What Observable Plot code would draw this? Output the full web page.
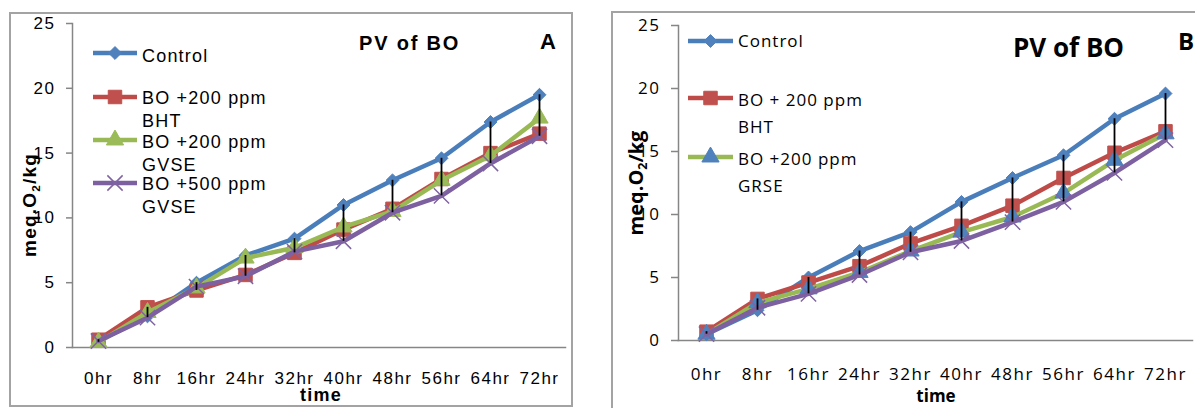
<!DOCTYPE html>
<html>
<head>
<meta charset="utf-8">
<script src="https://cdn.jsdelivr.net/npm/d3@7"></script>
<script src="https://cdn.jsdelivr.net/npm/@observablehq/plot@0.6"></script>
<style>
  body { margin: 0; background: #fff; }
  #root { position: relative; width: 1195px; height: 408px; overflow: hidden; background: #fff; }
  .frame { position: absolute; box-sizing: border-box; border: 2px solid #a3a3a3; }
  .plot { position: absolute; }
  #overlay { position: absolute; left: 0; top: 0; pointer-events: none; }
</style>
</head>
<body>
<div id="root"></div>
<script>
// ---------- data ----------
const times = ["0hr", "8hr", "16hr", "24hr", "32hr", "40hr", "48hr", "56hr", "64hr", "72hr"];
const yTicks = [0, 5, 10, 15, 20, 25];

// Panel A
const legendA = [["Control"], ["BO +200 ppm", "BHT"], ["BO +200 ppm", "GVSE"], ["BO +500 ppm", "GVSE"]];
const controlA  = [0.5, 2.4, 5.0, 7.1, 8.4, 11.0, 12.9, 14.6, 17.4, 19.5];
const bhtA      = [0.6, 3.1, 4.4, 5.6, 7.3, 9.1, 10.7, 13.0, 15.0, 16.5];
const gvse200A  = [0.4, 2.7, 4.6, 6.9, 7.7, 9.3, 10.5, 12.9, 14.8, 17.7];
const gvse500A  = [0.5, 2.3, 4.7, 5.5, 7.4, 8.2, 10.4, 11.7, 14.2, 16.3];

// Panel B
const legendB = [["Control"], ["BO + 200 ppm", "BHT"], ["BO +200 ppm", "GRSE"]];
const controlB  = [0.5, 2.4, 5.0, 7.1, 8.6, 11.0, 12.9, 14.7, 17.6, 19.6];
const bhtB      = [0.7, 3.3, 4.6, 5.9, 7.7, 9.1, 10.7, 12.9, 14.9, 16.6];
const grseB     = [0.5, 3.0, 4.1, 5.4, 7.1, 8.6, 9.8, 11.7, 14.3, 16.4];
const fourthB   = [0.5, 2.6, 3.7, 5.2, 7.0, 7.9, 9.4, 11.0, 13.3, 15.9];

// ---------- styles ----------
const BLUE = "#4a7ebb", BLUE_M = "#4f81bd";
const RED = "#be4b48", RED_M = "#c0504d";
const GREEN = "#98b954", GREEN_M = "#9bbb59";
const PURPLE = "#7d60a0", PURPLE_M = "#8064a2";

const styleControl = {line: BLUE, symbol: "diamond2", r: 5.8, fill: BLUE_M, stroke: BLUE_M, sw: 1};
const styleBHT     = {line: RED, symbol: "square", r: 7.6, fill: RED_M, stroke: RED_M, sw: 1};
const styleGreenA  = {line: GREEN, symbol: "triangle", r: 6.4, fill: GREEN_M, stroke: GREEN_M, sw: 1};
const styleGreenB  = {line: GREEN, symbol: "triangle", r: 6.4, fill: BLUE_M, stroke: BLUE_M, sw: 1};
const stylePurple  = {line: PURPLE, symbol: "times", r: 7, fill: "none", stroke: PURPLE_M, sw: 1.5};

const seriesA = [
  {values: controlA, label: legendA[0], ...styleControl},
  {values: bhtA, label: legendA[1], ...styleBHT},
  {values: gvse200A, label: legendA[2], ...styleGreenA},
  {values: gvse500A, label: legendA[3], ...stylePurple}
];
const seriesB = [
  {values: controlB, label: legendB[0], ...styleControl},
  {values: bhtB, label: legendB[1], ...styleBHT},
  {values: grseB, label: legendB[2], ...styleGreenB},
  {values: fourthB, label: null, ...stylePurple}
];

const root = document.getElementById("root");

function addFrame(l, t, w, h) {
  const d = document.createElement("div");
  d.className = "frame";
  Object.assign(d.style, {left: l + "px", top: t + "px", width: w + "px", height: h + "px"});
  root.appendChild(d);
}

function makePanel(cfg) {
  const rowsOf = s => times.map((t, i) => ({time: t, value: s.values[i]}));
  const ranges = times.map((t, i) => ({
    time: t,
    lo: d3.min(cfg.series, s => s.values[i]),
    hi: d3.max(cfg.series, s => s.values[i])
  }));
  const marks = [
    Plot.frame({anchor: "left", stroke: "#868686", strokeWidth: 1.5}),
    Plot.frame({anchor: "bottom", stroke: "#868686", strokeWidth: 1.5}),
    Plot.axisY({ticks: yTicks, tickSize: cfg.yTickSize, tickPadding: cfg.yTickPadding,
      stroke: "#868686", strokeWidth: 1.5, color: "black", label: null}),
    Plot.axisX({tickSize: 0, tickPadding: cfg.xTickPadding, color: "black", label: null})
  ];
  for (const s of cfg.series) {
    const rows = rowsOf(s);
    marks.push(Plot.line(rows, {x: "time", y: "value", stroke: s.line, strokeWidth: 4.5,
      strokeLinejoin: "round", strokeLinecap: "round"}));
    marks.push(Plot.dot(rows, {x: "time", y: "value", symbol: s.symbol, r: s.r,
      fill: s.fill, stroke: s.stroke, strokeWidth: s.sw}));
  }
  marks.push(Plot.ruleX(ranges, {x: "time", y1: "lo", y2: "hi", stroke: "black", strokeWidth: 1.8}));

  const svg = Plot.plot({
    width: cfg.width, height: cfg.height,
    marginLeft: cfg.ml, marginRight: cfg.mr, marginTop: cfg.mt, marginBottom: cfg.mb,
    x: {type: "point", domain: times, padding: 0.5},
    y: {domain: [0, 25]},
    style: {fontFamily: cfg.font, fontSize: cfg.fontSize + "px", letterSpacing: cfg.letterSpacing,
      background: "transparent", overflow: "visible", color: "black"},
    marks
  });
  const wrap = document.createElement("div");
  wrap.className = "plot";
  wrap.style.left = cfg.left + "px";
  wrap.style.top = cfg.top + "px";
  wrap.appendChild(svg);
  root.appendChild(wrap);
}

// frames
addFrame(9, 12, 564, 395);
addFrame(611, 11, 600, 420);

makePanel({
  series: seriesA, left: 10, top: 13, width: 562, height: 393,
  ml: 62, mr: 7, mt: 10, mb: 59,
  yTickSize: 6, yTickPadding: 11, xTickPadding: 24,
  font: "'Liberation Sans', Arial, sans-serif", fontSize: 17, letterSpacing: "1.5px"
});
makePanel({
  series: seriesB, left: 612, top: 12, width: 583, height: 396,
  ml: 66, mr: 3, mt: 13, mb: 68,
  yTickSize: 7, yTickPadding: 11, xTickPadding: 27,
  font: "'Open Sans', sans-serif", fontSize: 17, letterSpacing: "1.5px"
});

// ---------- overlay: titles, axis titles, legends ----------
const ov = d3.select(root).append("svg").attr("id", "overlay").attr("width", 1195).attr("height", 408);
const symMap = {diamond2: d3.symbolDiamond2, square: d3.symbolSquare, triangle: d3.symbolTriangle, times: d3.symbolTimes};

function text(x, y, str, o) {
  const t = ov.append("text").attr("x", x).attr("y", y).text(str)
    .attr("font-family", o.font).attr("font-size", o.size).attr("font-weight", o.weight || "normal")
    .attr("letter-spacing", o.ls || 0).attr("text-anchor", o.anchor || "start").attr("fill", "black");
  return t;
}

function yLabel(x, y, o) {
  const t = ov.append("text").attr("transform", `translate(${x},${y}) rotate(-90)`)
    .attr("font-family", o.font).attr("font-size", o.size).attr("font-weight", "bold")
    .attr("letter-spacing", o.ls || 0).attr("text-anchor", "middle").attr("fill", "black");
  t.append("tspan").text("meq.O");
  t.append("tspan").text("2").attr("font-size", o.size * 0.62).attr("dy", o.size * 0.22);
  t.append("tspan").text("/kg").attr("dy", -o.size * 0.22);
}

function legend(series, o) {
  series.filter(s => s.label).forEach((s, i) => {
    const ly = o.lineY[i];
    ov.append("line").attr("x1", o.x1).attr("x2", o.x2).attr("y1", ly).attr("y2", ly)
      .attr("stroke", s.line).attr("stroke-width", 4.5);
    ov.append("path").attr("transform", `translate(${(o.x1 + o.x2) / 2},${ly})`)
      .attr("d", d3.symbol().type(symMap[s.symbol]).size(Math.PI * s.r * s.r)())
      .attr("fill", s.fill).attr("stroke", s.stroke).attr("stroke-width", s.sw);
    s.label.forEach((line, j) => {
      text(o.tx, o.baseY[i] + j * o.lh, line, {font: o.font, size: o.size, ls: o.ls});
    });
  });
}

const fontA = "'Liberation Sans', Arial, sans-serif";
const fontB = "'Open Sans', sans-serif";

// Panel A
text(359, 50, "PV of BO", {font: fontA, size: 20, weight: "bold", ls: "1.8px"});
text(540, 49, "A", {font: fontA, size: 22, weight: "bold"});
text(321, 401, "time", {font: fontA, size: 18, weight: "bold", ls: "1.3px", anchor: "middle"});
yLabel(36, 205, {font: fontA, size: 19, ls: "1.2px"});
legend(seriesA, {x1: 93, x2: 137, tx: 142, lineY: [53, 97, 140, 183], baseY: [62, 104, 148, 190],
  lh: 23, font: fontA, size: 18, ls: "1.2px"});

// Panel B
text(1013, 57, "PV of BO", {font: fontB, size: 26, weight: "bold"});
text(1178, 50, "B", {font: fontB, size: 24, weight: "bold"});
text(936, 402, "time", {font: fontB, size: 17, weight: "bold", anchor: "middle"});
yLabel(643, 183, {font: fontB, size: 20});
legend(seriesB, {x1: 688, x2: 733, tx: 738, lineY: [41, 98, 157], baseY: [47, 106, 165],
  lh: 27, font: fontB, size: 17, ls: "1px"});
</script>
</body>
</html>
